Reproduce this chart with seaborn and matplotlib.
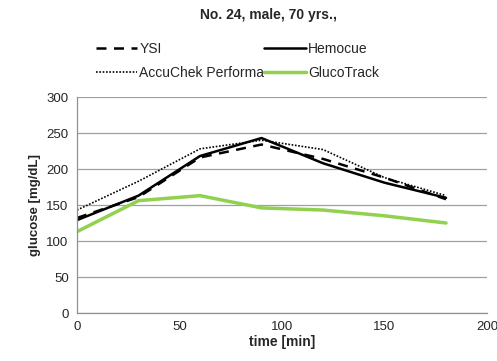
import matplotlib
matplotlib.use("Agg")
import matplotlib.pyplot as plt
import seaborn as sns
import pandas as pd

time = [0, 30, 60, 90, 120, 150, 180]
ysi = [132, 161, 216, 234, 214, 188, 158]
hemocue = [129, 163, 218, 243, 208, 181, 160]
accuchek = [143, 183, 228, 240, 227, 188, 163]
glucotrack = [113, 156, 163, 146, 143, 135, 125]
series_names = ["YSI", "Hemocue", "AccuChek Performa", "GlucoTrack"]

sns.set_style("white")
plt.rcParams['font.family'] = ['Liberation Sans', 'DejaVu Sans']

df = pd.DataFrame({"time": time * 4,
                   "value": ysi + hemocue + accuchek + glucotrack,
                   "series": sum([[n] * len(time) for n in series_names], [])})

fig = plt.figure(figsize=(4.97, 3.61), dpi=100)
ax = fig.add_axes([77/497, 1 - 313/361, 410/497, 216/361])

styles = {"YSI": dict(color="black", ls=(0, (4, 3)), lw=1.8),
          "Hemocue": dict(color="black", ls="-", lw=1.8),
          "AccuChek Performa": dict(color="black", ls=(0, (1, 1)), lw=1.2),
          "GlucoTrack": dict(color="#92d050", ls="-", lw=2.5)}
for n in series_names:
    sub = df[df.series == n]
    sns.lineplot(data=sub, x="time", y="value", ax=ax, label=n, **styles[n])

ax.set_xlim(0, 200)
ax.set_ylim(0, 300)
ax.set_xticks([0, 50, 100, 150, 200])
ax.set_yticks(range(0, 301, 50))
ax.grid(axis="y", color="#a0a0a0", lw=0.9)
ax.set_axisbelow(True)
for s in ["top", "right"]:
    ax.spines[s].set_visible(False)
for s in ["left", "bottom"]:
    ax.spines[s].set_color("#909090")
    ax.spines[s].set_linewidth(0.9)
ax.tick_params(axis="both", direction="out", length=4, color="#909090", labelsize=9.5, pad=2)
ax.set_xlabel("time [min]", fontsize=10, fontweight="bold", labelpad=1)
ax.set_ylabel("glucose [mg/dL]", fontsize=9.5, fontweight="bold", labelpad=4)

handles, labels = ax.get_legend_handles_labels()
ax.get_legend().remove()
order = [0, 2, 1, 3]
fig.legend([handles[i] for i in order], [labels[i] for i in order], ncol=2,
           loc="upper left", bbox_to_anchor=(90/497, 1 - 36/361), frameon=False,
           fontsize=10, handlelength=3.0, handletextpad=0.15, columnspacing=0.0,
           labelspacing=0.75, borderaxespad=0)

fig.text(0.5 + 20/497, 1 - 15/361, "No. 24, male, 70 yrs.,", ha="center", va="center",
         fontsize=10, fontweight="bold")

fig.savefig("out.png", dpi=100)
